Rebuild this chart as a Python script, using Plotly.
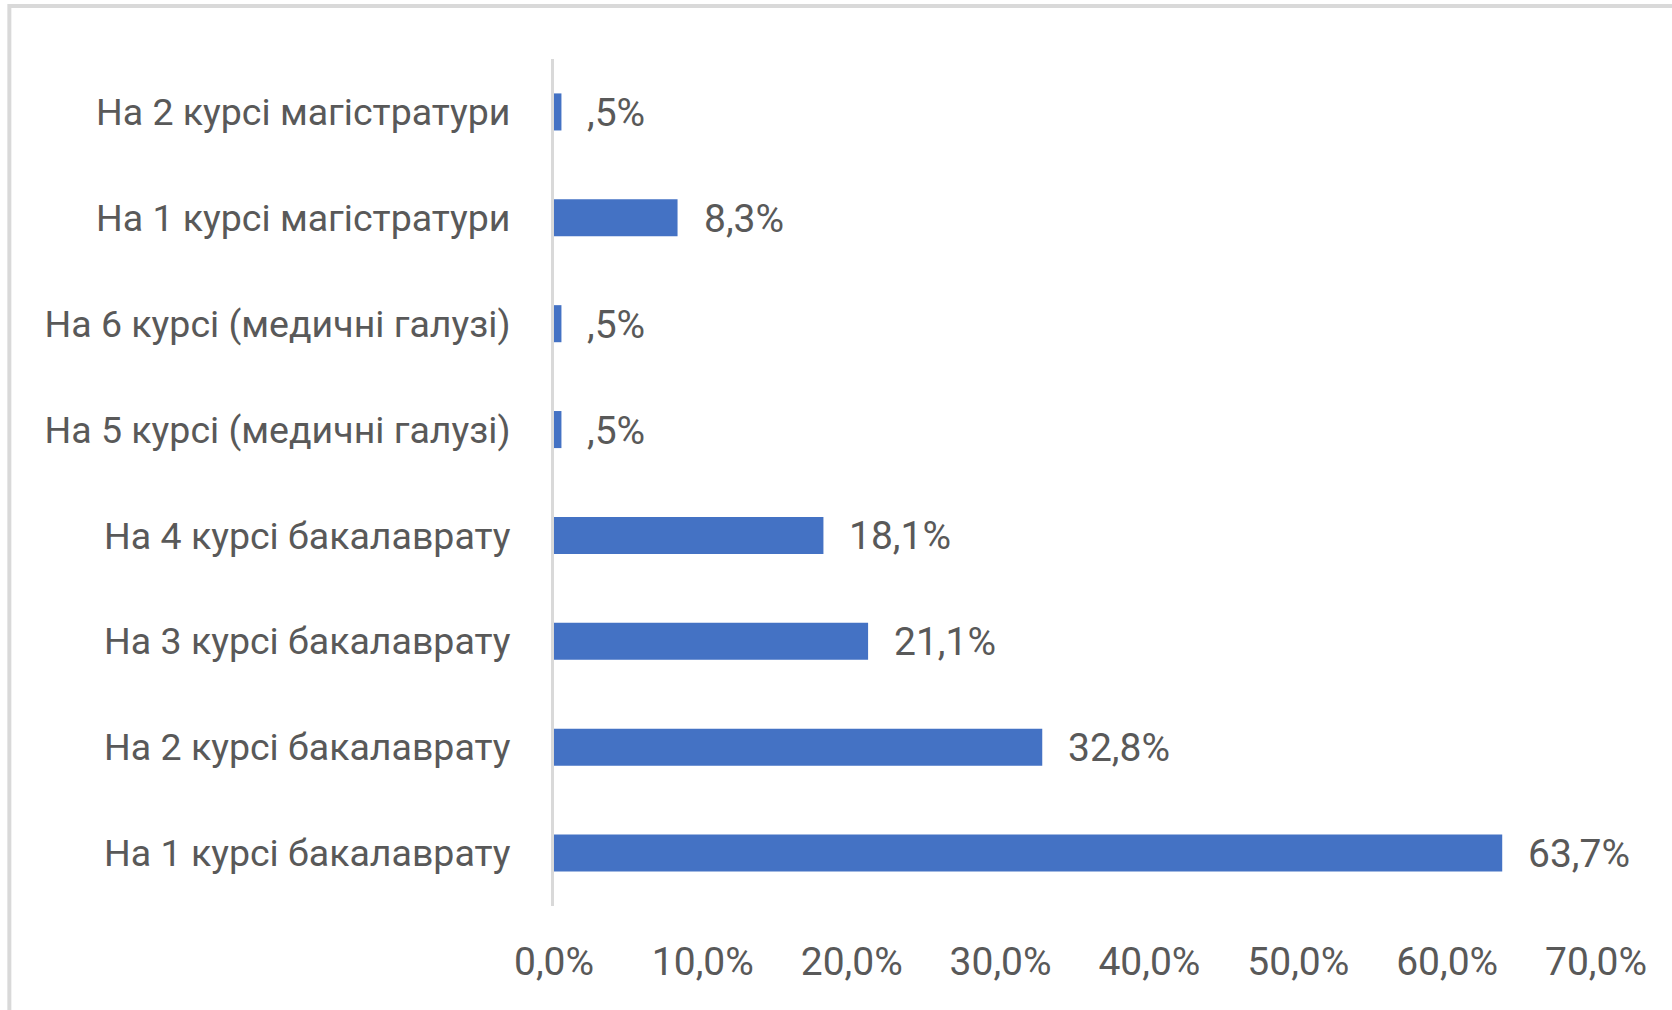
import plotly.graph_objects as go

# категорії зверху вниз, як на діаграмі
categories = [
    'На 2 курсі магістратури',
    'На 1 курсі магістратури',
    'На 6 курсі (медичні галузі)',
    'На 5 курсі (медичні галузі)',
    'На 4 курсі бакалаврату',
    'На 3 курсі бакалаврату',
    'На 2 курсі бакалаврату',
    'На 1 курсі бакалаврату',
]
values = [0.5, 8.3, 0.5, 0.5, 18.1, 21.1, 32.8, 63.7]
tick_vals = [0, 10, 20, 30, 40, 50, 60, 70]
tick_text = ['0,0%', '10,0%', '20,0%', '30,0%', '40,0%', '50,0%', '60,0%', '70,0%']


def fmt(v):
    # Excel-формат без нуля перед комою: 0,5% -> ,5%
    s = f'{v:.1f}'.replace('.', ',')
    if s.startswith('0,'):
        s = s[1:]
    return s + '%'


labels = [fmt(v) for v in values]

FONT = 'Roboto, sans-serif'
GRAY = '#595959'

fig = go.Figure()
fig.add_trace(go.Bar(
    x=values,
    y=categories,
    orientation='h',
    width=0.35,
    marker=dict(color='#4472C4', line=dict(width=0)),
    hoverinfo='x+y',
))

# підписи даних праворуч від стовпчиків
for v, c, t in zip(values, categories, labels):
    fig.add_annotation(x=v, y=c, text=t, showarrow=False,
                       xanchor='left', xshift=24, yshift=-1,
                       font=dict(family=FONT, size=39, color=GRAY))

# рамка діаграми (видно лише верхній і лівий край)
fig.add_shape(type='rect', xref='paper', yref='paper',
              x0=-0.5227, x1=1.3, y0=-0.3, y1=1.0626,
              line=dict(color='#D9D9D9', width=4), layer='below')

fig.update_xaxes(range=[0, 70], tickvals=tick_vals, ticktext=tick_text,
                 showgrid=False, zeroline=False, showline=False,
                 ticks='', ticklabelstandoff=29,
                 tickfont=dict(family=FONT, size=39, color=GRAY))
fig.update_yaxes(autorange='reversed', showgrid=False, zeroline=False,
                 showline=True, linecolor='#D9D9D9', linewidth=3,
                 ticks='', ticklabelstandoff=33,
                 tickfont=dict(family=FONT, size=37.5, color=GRAY))

fig.update_layout(
    width=1672, height=1010,
    margin=dict(l=554, r=76, t=59, b=104, autoexpand=False),
    paper_bgcolor='white', plot_bgcolor='white',
    showlegend=False, bargap=0.65,
)

fig.write_html('out.html', config={'displayModeBar': False},
               post_script="document.body.style.margin='0';")
